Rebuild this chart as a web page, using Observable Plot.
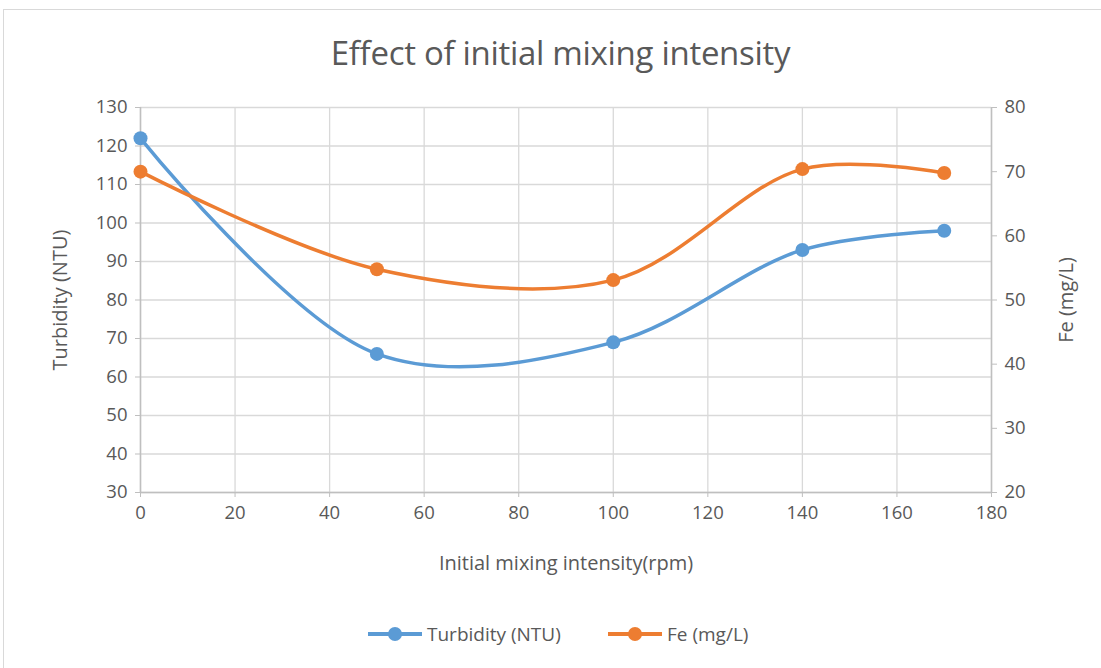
<!DOCTYPE html>
<html>
<head>
<meta charset="utf-8">
<script src="https://cdn.jsdelivr.net/npm/d3@7"></script>
<script src="https://cdn.jsdelivr.net/npm/@observablehq/plot@0.6"></script>
<style>
  html, body { margin: 0; padding: 0; background: #fff; }
  body { width: 1101px; height: 668px; position: relative; overflow: hidden; font-family: "Open Sans", "Liberation Sans", sans-serif; }
  #frame { position: absolute; left: 3px; top: 9px; width: 1110px; height: 670px; border: 1px solid #d9d9d9; box-sizing: border-box; }
  #title { position: absolute; left: 10px; width: 1101px; top: 30px; text-align: center; font-size: 33px; color: #595959; font-weight: 400; letter-spacing: -0.3px; }
  #chart { position: absolute; left: 0; top: 80px; }
  #legend { position: absolute; top: 620px; left: 0; width: 1101px; height: 28px; }
  .item { position: absolute; top: 0; height: 28px; display: flex; align-items: center; font-size: 19px; color: #595959; }
  .sw { position: relative; width: 54px; height: 28px; margin-right: 5px; }
  .sw .ln { position: absolute; left: 0; right: 0; top: 12px; height: 3.5px; }
  .sw .dt { position: absolute; left: 20px; top: 7px; width: 14px; height: 14px; border-radius: 50%; }
</style>
</head>
<body>
<div id="frame"></div>
<div id="title">Effect of initial mixing intensity</div>
<div id="chart"></div>
<div id="legend">
  <div class="item" style="left:368px"><div class="sw"><div class="ln" style="background:#5b9bd5"></div><div class="dt" style="background:#5b9bd5"></div></div><span id="lg1"></span></div>
  <div class="item" style="left:608px"><div class="sw"><div class="ln" style="background:#ed7d31"></div><div class="dt" style="background:#ed7d31"></div></div><span id="lg2"></span></div>
</div>
<script>
const rpm = [0, 50, 100, 140, 170];
const turbidity = [122, 66, 69, 93, 98];
const fe = [70.0, 54.8, 53.1, 70.4, 69.8];
const seriesNames = ["Turbidity (NTU)", "Fe (mg/L)"];
const xLabel = "Initial mixing intensity(rpm)";
const yLeftLabel = "Turbidity (NTU)";
const yRightLabel = "Fe (mg/L)";
const xTicks = [0, 20, 40, 60, 80, 100, 120, 140, 160, 180];
const leftTicks = [30, 40, 50, 60, 70, 80, 90, 100, 110, 120, 130];
const rightTicks = [20, 30, 40, 50, 60, 70, 80];

const colors = ["#5b9bd5", "#ed7d31"];
document.getElementById("lg1").textContent = seriesNames[0];
document.getElementById("lg2").textContent = seriesNames[1];

// map right-axis (Fe) values onto the left scale
const toLeft = v => 30 + (v - 20) * 100 / 60;
const toRight = v => (v - 30) * 60 / 100 + 20;

const dataT = rpm.map((x, i) => ({x, y: turbidity[i]}));
const dataF = rpm.map((x, i) => ({x, y: toLeft(fe[i])}));

const textColor = "#595959";
const chart = Plot.plot({
  width: 1101,
  height: 520,
  marginLeft: 140,
  marginRight: 110,
  marginTop: 27,
  marginBottom: 108,
  style: { fontFamily: "'Open Sans', 'Liberation Sans', sans-serif", fontSize: "18px", color: textColor, background: "transparent" },
  x: { domain: [0, 180] },
  y: { domain: [30, 130] },
  marks: [
    Plot.gridX(xTicks, { stroke: "#d9d9d9", strokeOpacity: 1, strokeWidth: 1.3 }),
    Plot.gridY(leftTicks, { stroke: "#d9d9d9", strokeOpacity: 1, strokeWidth: 1.3 }),
    Plot.ruleX([0, 180], { stroke: "#bfbfbf", strokeWidth: 1.5 }),
    Plot.ruleY([30], { stroke: "#bfbfbf", strokeWidth: 1.5 }),
    Plot.axisX(xTicks, { tickSize: 5, stroke: "#bfbfbf", fill: textColor, fontSize: 18.5, tickPadding: 8, label: null }),
    Plot.axisY(leftTicks, { anchor: "left", tickSize: 5, stroke: "#bfbfbf", fill: textColor, fontSize: 18.5, tickPadding: 8, label: null }),
    Plot.axisY(rightTicks.map(toLeft), { anchor: "right", tickSize: 5, stroke: "#bfbfbf", fill: textColor, fontSize: 18.5, tickPadding: 8,
      tickFormat: v => String(Math.round(toRight(v))), label: null }),
    Plot.text([xLabel], { frameAnchor: "bottom", dy: 71, fill: textColor, fontSize: 20, lineAnchor: "middle" }),
    Plot.text([yLeftLabel], { frameAnchor: "left", dx: -80, rotate: -90, textAnchor: "middle", lineAnchor: "middle", fill: textColor, fontSize: 20 }),
    Plot.text([yRightLabel], { frameAnchor: "right", dx: 75, rotate: -90, textAnchor: "middle", lineAnchor: "middle", fill: textColor, fontSize: 20 }),
    Plot.line(dataT, { x: "x", y: "y", stroke: colors[0], strokeWidth: 3.5, curve: "catmull-rom" }),
    Plot.line(dataF, { x: "x", y: "y", stroke: colors[1], strokeWidth: 3.5, curve: "catmull-rom" }),
    Plot.dot(dataT, { x: "x", y: "y", fill: colors[0], r: 7 }),
    Plot.dot(dataF, { x: "x", y: "y", fill: colors[1], r: 7 })
  ]
});
document.getElementById("chart").appendChild(chart);
</script>
</body>
</html>
